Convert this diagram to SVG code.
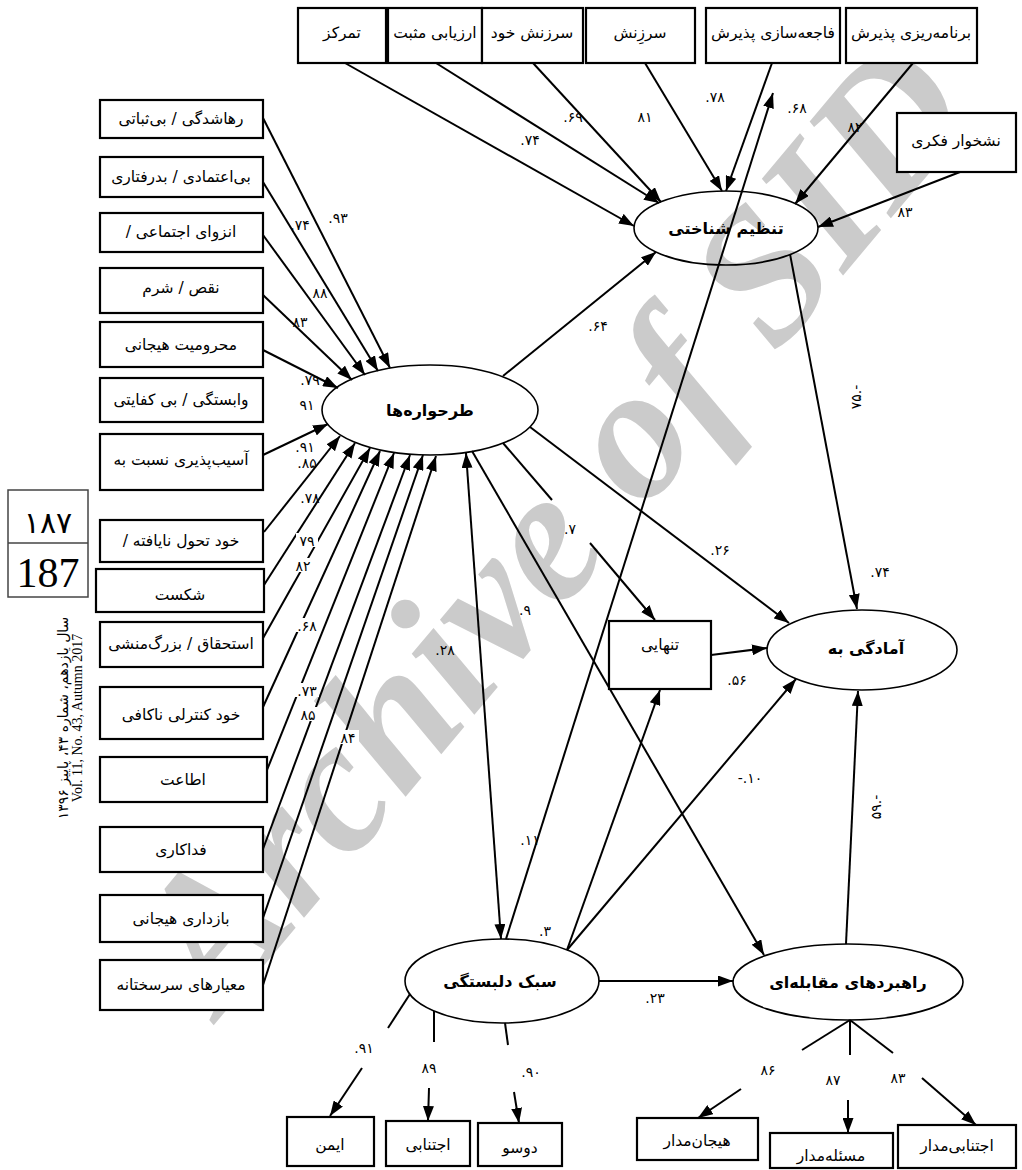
<svg xmlns="http://www.w3.org/2000/svg" width="1022" height="1170" viewBox="0 0 1022 1170">
<defs>
<marker id="ah" viewBox="0 0 15 11" refX="15" refY="5.5" markerWidth="15" markerHeight="11" orient="auto-start-reverse" markerUnits="userSpaceOnUse"><path d="M0,0 L15,5.5 L0,11 z" fill="#000"/></marker>
<style>
.box{fill:#fff;stroke:#000;stroke-width:2.2}
.ell{fill:none;stroke:#000;stroke-width:1.6}
.t{font-family:"DejaVu Sans",sans-serif;font-size:15.5px;text-anchor:middle;direction:rtl;fill:#000}
.tb{font-family:"DejaVu Sans",sans-serif;font-size:16px;font-weight:bold;text-anchor:middle;direction:rtl;fill:#000}
.lb{font-family:"DejaVu Sans",sans-serif;font-size:14px;text-anchor:middle;fill:#000}
.c{stroke:#000;stroke-width:2;fill:none}
.a{marker-end:url(#ah)}
.d{marker-start:url(#ah);marker-end:url(#ah)}
.wb{fill:#fff}
</style>
</defs>
<rect width="1022" height="1170" fill="#fff"/>
<text x="600" y="565" transform="rotate(-50 600 565)" font-family="Liberation Serif" font-style="italic" font-weight="bold" font-size="190" fill="#cbcbcb" text-anchor="middle">Archive of SID</text>

<g id="connectors">
<path class="c a" d="M345,63 L634,226"/>
<path class="c a" d="M436,63 L659,203"/>
<path class="c a" d="M533,63 L661,202"/>
<path class="c a" d="M645,63 L722,191"/>
<path class="c a" d="M772,63 L726,191"/>
<path class="c a" d="M913,63 L795,204"/>
<path class="c a" d="M960,172 L818,227"/>
<path class="c a" d="M503,376 L656,252"/>
<path class="c a" d="M790,254 L857,609"/>
<path class="c a" d="M506,939 L773,93"/>
<path class="c a" d="M263,118 L390,368"/>
<path class="c a" d="M263,182 L378,371"/>
<path class="c a" d="M263,235 L365,375"/>
<path class="c a" d="M263,295 L352,380"/>
<path class="c a" d="M263,350 L338,388"/>
<path class="c a" d="M263,455 L328,424"/>
<path class="c a" d="M264,532 L340,436"/>
<path class="c a" d="M264,585 L355,443"/>
<path class="c a" d="M262,640 L370,448"/>
<path class="c a" d="M263,707 L380,451"/>
<path class="c a" d="M263,780 L394,453"/>
<path class="c a" d="M263,849 L410,455"/>
<path class="c a" d="M263,918 L423,455"/>
<path class="c a" d="M263,985 L436,456"/>
<path class="c a" d="M530,427 L789,623"/>
<path class="c" d="M503,443 L552,500"/>
<path class="c a" d="M590,543 L655,620"/>
<path class="c a" d="M472,451 L764,955"/>
<path class="c d" d="M466,453 L501,939"/>
<path class="c a" d="M567,950 L660,690"/>
<path class="c a" d="M567,950 L796,679"/>
<path class="c a" d="M599,981 L733,981"/>
<path class="c a" d="M846,944 L858,691"/>
<path class="c a" d="M711,655 L767,648"/>
<path class="c" d="M410,994 L388,1028"/>
<path class="c a" d="M362,1068 L330,1116"/>
<path class="c" d="M434,1011 L434,1042"/>
<path class="c a" d="M429,1088 L428,1121"/>
<path class="c" d="M505,1023 L508,1045"/>
<path class="c a" d="M514,1092 L519,1123"/>
<path class="c" d="M850,1020 L802,1050"/>
<path class="c a" d="M741,1089 L698,1118"/>
<path class="c" d="M850,1020 L850,1055"/>
<path class="c a" d="M848,1100 L848,1133"/>
<path class="c" d="M850,1020 L893,1053"/>
<path class="c a" d="M922,1078 L976,1125"/>
</g>

<g id="top-boxes">
<g id="n-tamarkoz"><rect class="box" x="298" y="8" width="88" height="55"/><text class="t" x="342" y="38">تمرکز</text></g>
<g id="n-arzyabi"><rect class="box" x="388" y="8" width="94" height="55"/><text class="t" x="435" y="38">ارزیابی مثبت</text></g>
<g id="n-sarzanesh-khod"><rect class="box" x="482" y="8" width="101" height="55"/><text class="t" x="532" y="38">سرزنش خود</text></g>
<g id="n-sarzanesh"><rect class="box" x="586" y="8" width="109" height="55"/><text class="t" x="640" y="38">سرزِنش</text></g>
<g id="n-fajeh"><rect class="box" x="706" y="8" width="134" height="55"/><text class="t" x="773" y="38">فاجعه‌سازی پذیرش</text></g>
<g id="n-barnameh"><rect class="box" x="846" y="8" width="131" height="55"/><text class="t" x="911" y="38">برنامه‌ریزی پذیرش</text></g>
<g id="n-nashkhar"><rect class="box" x="897" y="113" width="119" height="59"/><text class="t" x="956" y="146">نشخوار فکری</text></g>
</g>

<g id="left-boxes">
<g id="n1"><rect class="box" x="100" y="100" width="163" height="38"/><text class="t" x="181" y="124">رهاشدگی / بی‌ثباتی</text></g>
<g id="n2"><rect class="box" x="100" y="157" width="163" height="40"/><text class="t" x="181" y="182">بی‌اعتمادی / بدرفتاری</text></g>
<g id="n3"><rect class="box" x="100" y="213" width="163" height="39"/><text class="t" x="181" y="237">انزوای اجتماعی /</text></g>
<g id="n4"><rect class="box" x="100" y="268" width="163" height="45"/><text class="t" x="181" y="293">نقص / شرم</text></g>
<g id="n5"><rect class="box" x="100" y="322" width="163" height="45"/><text class="t" x="181" y="350">محرومیت هیجانی</text></g>
<g id="n6"><rect class="box" x="100" y="378" width="163" height="44"/><text class="t" x="181" y="405">وابستگی / بی کفایتی</text></g>
<g id="n7"><rect class="box" x="100" y="434" width="163" height="56"/><text class="t" x="181" y="465">آسیب‌پذیری نسبت به</text></g>
<g id="n8"><rect class="box" x="100" y="520" width="163" height="42"/><text class="t" x="181" y="546">خود تحول نایافته /</text></g>
<g id="n9"><rect class="box" x="96" y="569" width="168" height="43"/><text class="t" x="180" y="600">شکست</text></g>
<g id="n10"><rect class="box" x="100" y="622" width="163" height="45"/><text class="t" x="181" y="649">استحقاق / بزرگ‌منشی</text></g>
<g id="n11"><rect class="box" x="100" y="687" width="163" height="52"/><text class="t" x="181" y="720">خود کنترلی ناکافی</text></g>
<g id="n12"><rect class="box" x="100" y="757" width="167" height="45"/><text class="t" x="183" y="785">اطاعت</text></g>
<g id="n13"><rect class="box" x="100" y="827" width="163" height="45"/><text class="t" x="181" y="855">فداکاری</text></g>
<g id="n14"><rect class="box" x="100" y="895" width="163" height="47"/><text class="t" x="181" y="924">بازداری هیجانی</text></g>
<g id="n15"><rect class="box" x="100" y="960" width="163" height="50"/><text class="t" x="181" y="990">معیارهای سرسختانه</text></g>
</g>

<g id="latent">
<g id="n-tanzim"><ellipse class="ell" cx="726" cy="228" rx="92" ry="37"/><text class="tb" x="726" y="234">تنظیم شناختی</text></g>
<g id="n-tarhvare"><ellipse class="ell" cx="430" cy="410" rx="108" ry="45"/><text class="tb" x="430" y="416">طرحواره‌ها</text></g>
<g id="n-amadegi"><ellipse class="ell" cx="862" cy="650" rx="95" ry="40"/><text class="tb" x="866" y="654">آمادگی به</text></g>
<g id="n-sabk"><ellipse class="ell" cx="502" cy="981" rx="97" ry="42"/><text class="tb" x="500" y="987">سبک دلبستگی</text></g>
<g id="n-rahbord"><ellipse class="ell" cx="848" cy="982" rx="115" ry="38"/><text class="tb" x="848" y="988">راهبردهای مقابله‌ای</text></g>
</g>

<g id="n-tanhaei"><rect class="box" x="609" y="621" width="102" height="68"/><text class="t" x="660" y="650">تنهایی</text></g>

<g id="bottom-boxes">
<g id="n-imen"><rect class="box" x="287" y="1117" width="87" height="49"/><text class="t" x="330" y="1150">ایمن</text></g>
<g id="n-ejtenabi"><rect class="box" x="386" y="1121" width="84" height="45"/><text class="t" x="428" y="1150">اجتنابی</text></g>
<g id="n-dosu"><rect class="box" x="478" y="1123" width="84" height="43"/><text class="t" x="520" y="1153">دوسو</text></g>
<g id="n-hayajan"><rect class="box" x="637" y="1118" width="121" height="42"/><text class="t" x="697" y="1146">هیجان‌مدار</text></g>
<g id="n-masale"><rect class="box" x="770" y="1133" width="123" height="35"/><text class="t" x="831" y="1161">مسئله‌مدار</text></g>
<g id="n-ejtenabi-madar"><rect class="box" x="898" y="1125" width="118" height="43"/><text class="t" x="957" y="1151">اجتنابی‌مدار</text></g>
</g>

<g id="labels">
<rect class="wb" x="296" y="533" width="22" height="14"/>
<rect class="wb" x="292" y="558" width="22" height="14"/>
<rect class="wb" x="295" y="618" width="24" height="14"/>
<rect class="wb" x="295" y="683" width="24" height="14"/>
<rect class="wb" x="297" y="707" width="22" height="14"/>
<rect class="wb" x="337" y="730" width="22" height="14"/>
<text class="lb" x="530" y="145">.۷۴</text>
<text class="lb" x="573" y="122">.۶۹</text>
<text class="lb" x="645" y="122">۸۱</text>
<text class="lb" x="715" y="102">.۷۸</text>
<text class="lb" x="797" y="113">.۶۸</text>
<text class="lb" x="855" y="132">۸۲</text>
<text class="lb" x="905" y="217">۸۳</text>
<text class="lb" x="338" y="223">.۹۳</text>
<text class="lb" x="300" y="230">.۷۴</text>
<text class="lb" x="320" y="298">۸۸</text>
<text class="lb" x="300" y="327">۸۳</text>
<text class="lb" x="310" y="385">.۷۹</text>
<text class="lb" x="307" y="410">۹۱</text>
<text class="lb" x="305" y="452">.۹۱</text>
<text class="lb" x="307" y="468">.۸۵</text>
<text class="lb" x="310" y="503">.۷۸</text>
<text class="lb" x="307" y="546">۷۹</text>
<text class="lb" x="303" y="571">۸۲</text>
<text class="lb" x="307" y="631">.۶۸</text>
<text class="lb" x="307" y="696">.۷۳</text>
<text class="lb" x="308" y="720">۸۵</text>
<text class="lb" x="348" y="743">۸۴</text>
<text class="lb" x="598" y="331">.۶۴</text>
<text class="lb" x="720" y="555">.۲۶</text>
<text class="lb" x="880" y="577">.۷۴</text>
<text class="lb" transform="translate(861,397) rotate(-90)">۷۵.-</text>
<text class="lb" x="570" y="534">.۷</text>
<text class="lb" x="525" y="615">.۹</text>
<text class="lb" x="737" y="685">.۵۶</text>
<text class="lb" x="445" y="655">.۲۸</text>
<text class="lb" x="750" y="783">-.۱۰</text>
<text class="lb" transform="translate(881,807) rotate(-90)">۵۹.-</text>
<text class="lb" x="530" y="845">.۱۱</text>
<text class="lb" x="545" y="936">.۳</text>
<text class="lb" x="655" y="1003">.۲۳</text>
<text class="lb" x="364" y="1053">.۹۱</text>
<text class="lb" x="429" y="1073">۸۹</text>
<text class="lb" x="531" y="1077">.۹۰</text>
<text class="lb" x="768" y="1075">۸۶</text>
<text class="lb" x="833" y="1085">۸۷</text>
<text class="lb" x="898" y="1083">۸۳</text>
</g>

<g id="page-number">
<rect x="8" y="490" width="80" height="107" fill="#fff" stroke="#444" stroke-width="1.5"/>
<line x1="8" y1="543" x2="88" y2="543" stroke="#444" stroke-width="1.5"/>
<text x="48" y="533" font-family="DejaVu Sans,sans-serif" font-size="30" text-anchor="middle">۱۸۷</text>
<text x="48" y="587" font-family="Liberation Serif,serif" font-size="42" text-anchor="middle">187</text>
</g>
<g id="journal">
<text transform="translate(68,718) rotate(-90)" font-family="DejaVu Sans,sans-serif" font-size="14" text-anchor="middle" style="direction:rtl">سال یازدهم، شماره ۴۳، پاییز ۱۳۹۶</text>
<text transform="translate(82,718) rotate(-90)" font-family="Liberation Serif,serif" font-size="14" text-anchor="middle">Vol. 11, No. 43, Autumn 2017</text>
</g>
</svg>
